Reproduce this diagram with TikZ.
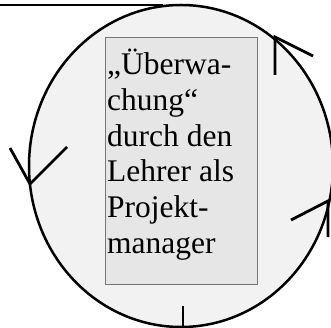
\documentclass[tikz,border=0pt]{standalone}
\usepackage{fontspec}
\setmainfont{Liberation Serif}
\usetikzlibrary{shapes.geometric}
\definecolor{ringfill}{HTML}{F2F2F2}
\definecolor{boxfill}{HTML}{E6E6E6}
\definecolor{boxline}{HTML}{777777}
\begin{document}
\begin{tikzpicture}[x=1pt,y=-1pt,
  ring/.style={ellipse, draw=black, line width=2.5pt, fill=ringfill, inner sep=0pt},
  panel/.style={rectangle, draw=boxline, line width=1.3pt, fill=boxfill, inner sep=0pt},
  tickline/.style={draw=black, line width=2.8pt},
  lbl/.style={anchor=base west, inner sep=0pt, font=\fontsize{31.5}{35.6}\selectfont}]
\useasboundingbox (0,0) rectangle (331,328);
\clip (0,0) rectangle (331,328);
\node[ring, minimum width=304pt, minimum height=322pt] (circ) at (181,166) {};
\node[panel, minimum width=152pt, minimum height=247pt, anchor=north west] (box) at (105,37) {};
\node[lbl] (l1) at (107,75) {„Überwa-};
\node[lbl] (l2) at (107,110.6) {chung“};
\node[lbl] (l3) at (107,146.2) {durch den};
\node[lbl] (l4) at (107,181.8) {Lehrer als};
\node[lbl] (l5) at (107,217.4) {Projekt-};
\node[lbl] (l6) at (107,253) {manager};
% top line
\coordinate (t0) at (0,5);
\coordinate (t1) at (163,5);
\draw[tickline] (t0) -- (t1);
% left arrowhead
\coordinate (la) at (10,148);
\coordinate (lt) at (30,184);
\coordinate (lb) at (67,147);
\draw[tickline] (la) -- (lt) -- (lb);
% upper right arrowhead
\coordinate (ua) at (313,56);
\coordinate (ut) at (275,37);
\coordinate (ub) at (275,75);
\draw[tickline] (ua) -- (ut) -- (ub);
% right arrowhead
\coordinate (ra) at (291,220);
\coordinate (rt) at (328,201);
\coordinate (rb) at (328,237);
\draw[tickline] (ra) -- (rt) -- (rb);
% bottom tick
\coordinate (ba) at (183,306);
\coordinate (bb) at (183,328);
\draw[tickline] (ba) -- (bb);
\end{tikzpicture}
\end{document}
